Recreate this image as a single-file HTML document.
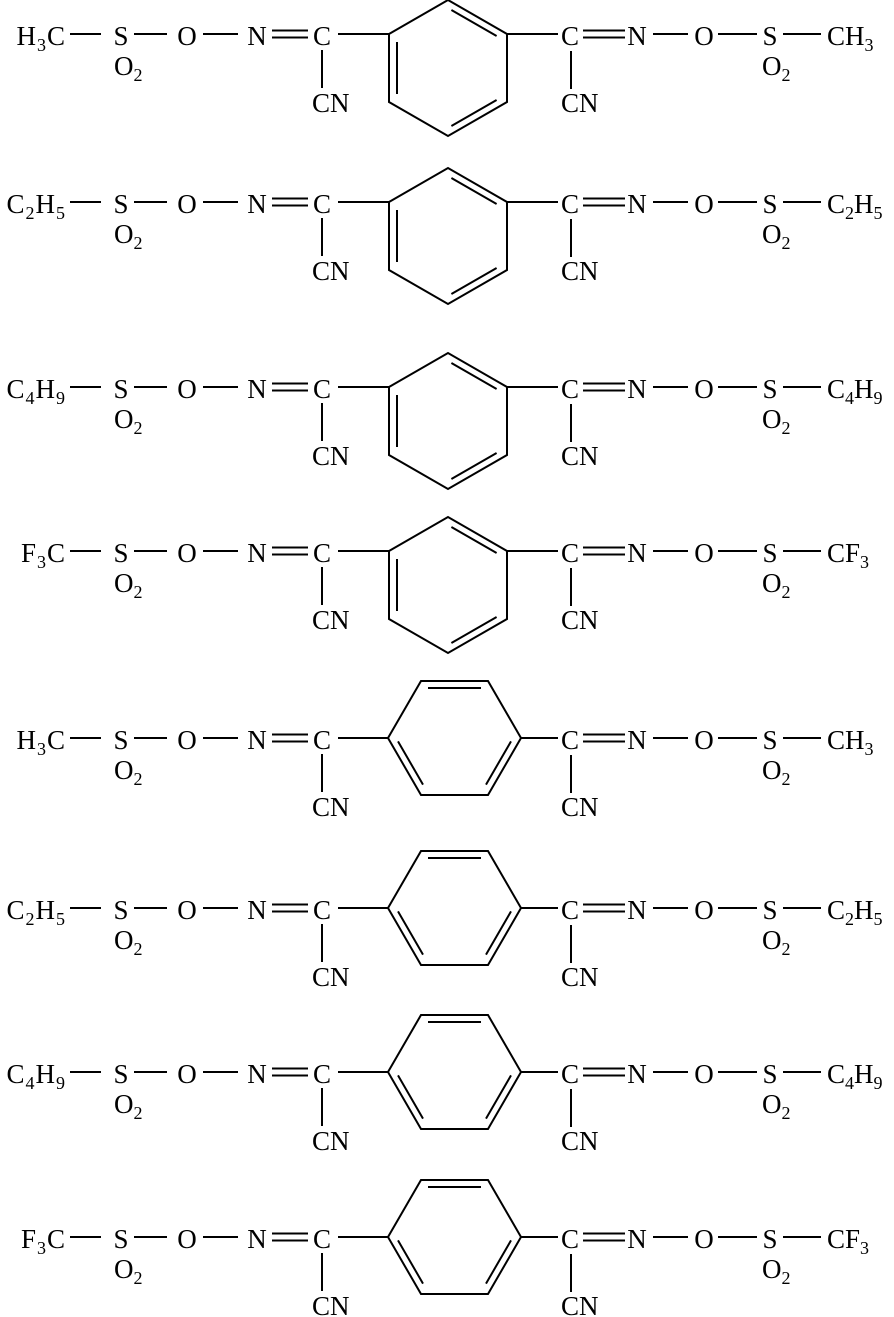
<!DOCTYPE html>
<html><head><meta charset="utf-8"><style>
html,body{margin:0;padding:0;background:#fff}
svg{display:block}
text{font-family:"Liberation Serif",serif;font-size:27px;fill:#000}
tspan.s{font-size:18px}
.m{text-anchor:middle}
.e{text-anchor:end;letter-spacing:1px}
path{stroke:#000;stroke-width:2;fill:none}
</style></head><body>
<svg width="894" height="1317" viewBox="0 0 894 1317">

<g transform="translate(0,34)">
<path d="M70 0H101M134 0H167M203 0H238M272 -3.5H308M272 3.5H308M338 0H389M322 16V54M507 0H558M583 -3.5H625M583 3.5H625M653 0H688M718 0H757M783 0H821M571 17V55"/>
<path d="M389 0L448 -34L507 0L507 68L448 102L389 68Z M397 8V60 M451.4 -24L496.6 2 M496.6 66L451.4 92"/>
<text class="e" x="66" y="11">H<tspan class="s" dy="6">3</tspan><tspan dy="-6">C</tspan></text>
<text class="m" x="121" y="11">S</text><text x="114" y="41">O<tspan class="s" dy="6">2</tspan></text>
<text class="m" x="187" y="11">O</text><text class="m" x="257" y="11">N</text><text class="m" x="322" y="11">C</text>
<text x="312" y="78">CN</text>
<text class="m" x="570" y="11">C</text><text class="m" x="637" y="11">N</text><text class="m" x="704" y="11">O</text><text class="m" x="770" y="11">S</text>
<text x="762" y="41">O<tspan class="s" dy="6">2</tspan></text><text x="561" y="78">CN</text>
<text x="827" y="11">CH<tspan class="s" dy="6">3</tspan></text>
</g>

<g transform="translate(0,202)">
<path d="M70 0H101M134 0H167M203 0H238M272 -3.5H308M272 3.5H308M338 0H389M322 16V54M507 0H558M583 -3.5H625M583 3.5H625M653 0H688M718 0H757M783 0H821M571 17V55"/>
<path d="M389 0L448 -34L507 0L507 68L448 102L389 68Z M397 8V60 M451.4 -24L496.6 2 M496.6 66L451.4 92"/>
<text class="e" x="66" y="11">C<tspan class="s" dy="6">2</tspan><tspan dy="-6">H</tspan><tspan class="s" dy="6">5</tspan></text>
<text class="m" x="121" y="11">S</text><text x="114" y="41">O<tspan class="s" dy="6">2</tspan></text>
<text class="m" x="187" y="11">O</text><text class="m" x="257" y="11">N</text><text class="m" x="322" y="11">C</text>
<text x="312" y="78">CN</text>
<text class="m" x="570" y="11">C</text><text class="m" x="637" y="11">N</text><text class="m" x="704" y="11">O</text><text class="m" x="770" y="11">S</text>
<text x="762" y="41">O<tspan class="s" dy="6">2</tspan></text><text x="561" y="78">CN</text>
<text x="827" y="11">C<tspan class="s" dy="6">2</tspan><tspan dy="-6">H</tspan><tspan class="s" dy="6">5</tspan></text>
</g>

<g transform="translate(0,387)">
<path d="M70 0H101M134 0H167M203 0H238M272 -3.5H308M272 3.5H308M338 0H389M322 16V54M507 0H558M583 -3.5H625M583 3.5H625M653 0H688M718 0H757M783 0H821M571 17V55"/>
<path d="M389 0L448 -34L507 0L507 68L448 102L389 68Z M397 8V60 M451.4 -24L496.6 2 M496.6 66L451.4 92"/>
<text class="e" x="66" y="11">C<tspan class="s" dy="6">4</tspan><tspan dy="-6">H</tspan><tspan class="s" dy="6">9</tspan></text>
<text class="m" x="121" y="11">S</text><text x="114" y="41">O<tspan class="s" dy="6">2</tspan></text>
<text class="m" x="187" y="11">O</text><text class="m" x="257" y="11">N</text><text class="m" x="322" y="11">C</text>
<text x="312" y="78">CN</text>
<text class="m" x="570" y="11">C</text><text class="m" x="637" y="11">N</text><text class="m" x="704" y="11">O</text><text class="m" x="770" y="11">S</text>
<text x="762" y="41">O<tspan class="s" dy="6">2</tspan></text><text x="561" y="78">CN</text>
<text x="827" y="11">C<tspan class="s" dy="6">4</tspan><tspan dy="-6">H</tspan><tspan class="s" dy="6">9</tspan></text>
</g>

<g transform="translate(0,551)">
<path d="M70 0H101M134 0H167M203 0H238M272 -3.5H308M272 3.5H308M338 0H389M322 16V54M507 0H558M583 -3.5H625M583 3.5H625M653 0H688M718 0H757M783 0H821M571 17V55"/>
<path d="M389 0L448 -34L507 0L507 68L448 102L389 68Z M397 8V60 M451.4 -24L496.6 2 M496.6 66L451.4 92"/>
<text class="e" x="66" y="11">F<tspan class="s" dy="6">3</tspan><tspan dy="-6">C</tspan></text>
<text class="m" x="121" y="11">S</text><text x="114" y="41">O<tspan class="s" dy="6">2</tspan></text>
<text class="m" x="187" y="11">O</text><text class="m" x="257" y="11">N</text><text class="m" x="322" y="11">C</text>
<text x="312" y="78">CN</text>
<text class="m" x="570" y="11">C</text><text class="m" x="637" y="11">N</text><text class="m" x="704" y="11">O</text><text class="m" x="770" y="11">S</text>
<text x="762" y="41">O<tspan class="s" dy="6">2</tspan></text><text x="561" y="78">CN</text>
<text x="827" y="11">CF<tspan class="s" dy="6">3</tspan></text>
</g>

<g transform="translate(0,738)">
<path d="M70 0H101M134 0H167M203 0H238M272 -3.5H308M272 3.5H308M338 0H388M322 16V54M521 0H558M583 -3.5H625M583 3.5H625M653 0H688M718 0H757M783 0H821M571 17V55"/>
<path d="M388 0L421 -57L488 -57L521 0L488 57L421 57Z M428 -50H481 M511 3.4L486 46.6 M398 3.4L423 46.6"/>
<text class="e" x="66" y="11">H<tspan class="s" dy="6">3</tspan><tspan dy="-6">C</tspan></text>
<text class="m" x="121" y="11">S</text><text x="114" y="41">O<tspan class="s" dy="6">2</tspan></text>
<text class="m" x="187" y="11">O</text><text class="m" x="257" y="11">N</text><text class="m" x="322" y="11">C</text>
<text x="312" y="78">CN</text>
<text class="m" x="570" y="11">C</text><text class="m" x="637" y="11">N</text><text class="m" x="704" y="11">O</text><text class="m" x="770" y="11">S</text>
<text x="762" y="41">O<tspan class="s" dy="6">2</tspan></text><text x="561" y="78">CN</text>
<text x="827" y="11">CH<tspan class="s" dy="6">3</tspan></text>
</g>

<g transform="translate(0,908)">
<path d="M70 0H101M134 0H167M203 0H238M272 -3.5H308M272 3.5H308M338 0H388M322 16V54M521 0H558M583 -3.5H625M583 3.5H625M653 0H688M718 0H757M783 0H821M571 17V55"/>
<path d="M388 0L421 -57L488 -57L521 0L488 57L421 57Z M428 -50H481 M511 3.4L486 46.6 M398 3.4L423 46.6"/>
<text class="e" x="66" y="11">C<tspan class="s" dy="6">2</tspan><tspan dy="-6">H</tspan><tspan class="s" dy="6">5</tspan></text>
<text class="m" x="121" y="11">S</text><text x="114" y="41">O<tspan class="s" dy="6">2</tspan></text>
<text class="m" x="187" y="11">O</text><text class="m" x="257" y="11">N</text><text class="m" x="322" y="11">C</text>
<text x="312" y="78">CN</text>
<text class="m" x="570" y="11">C</text><text class="m" x="637" y="11">N</text><text class="m" x="704" y="11">O</text><text class="m" x="770" y="11">S</text>
<text x="762" y="41">O<tspan class="s" dy="6">2</tspan></text><text x="561" y="78">CN</text>
<text x="827" y="11">C<tspan class="s" dy="6">2</tspan><tspan dy="-6">H</tspan><tspan class="s" dy="6">5</tspan></text>
</g>

<g transform="translate(0,1072)">
<path d="M70 0H101M134 0H167M203 0H238M272 -3.5H308M272 3.5H308M338 0H388M322 16V54M521 0H558M583 -3.5H625M583 3.5H625M653 0H688M718 0H757M783 0H821M571 17V55"/>
<path d="M388 0L421 -57L488 -57L521 0L488 57L421 57Z M428 -50H481 M511 3.4L486 46.6 M398 3.4L423 46.6"/>
<text class="e" x="66" y="11">C<tspan class="s" dy="6">4</tspan><tspan dy="-6">H</tspan><tspan class="s" dy="6">9</tspan></text>
<text class="m" x="121" y="11">S</text><text x="114" y="41">O<tspan class="s" dy="6">2</tspan></text>
<text class="m" x="187" y="11">O</text><text class="m" x="257" y="11">N</text><text class="m" x="322" y="11">C</text>
<text x="312" y="78">CN</text>
<text class="m" x="570" y="11">C</text><text class="m" x="637" y="11">N</text><text class="m" x="704" y="11">O</text><text class="m" x="770" y="11">S</text>
<text x="762" y="41">O<tspan class="s" dy="6">2</tspan></text><text x="561" y="78">CN</text>
<text x="827" y="11">C<tspan class="s" dy="6">4</tspan><tspan dy="-6">H</tspan><tspan class="s" dy="6">9</tspan></text>
</g>

<g transform="translate(0,1237)">
<path d="M70 0H101M134 0H167M203 0H238M272 -3.5H308M272 3.5H308M338 0H388M322 16V54M521 0H558M583 -3.5H625M583 3.5H625M653 0H688M718 0H757M783 0H821M571 17V55"/>
<path d="M388 0L421 -57L488 -57L521 0L488 57L421 57Z M428 -50H481 M511 3.4L486 46.6 M398 3.4L423 46.6"/>
<text class="e" x="66" y="11">F<tspan class="s" dy="6">3</tspan><tspan dy="-6">C</tspan></text>
<text class="m" x="121" y="11">S</text><text x="114" y="41">O<tspan class="s" dy="6">2</tspan></text>
<text class="m" x="187" y="11">O</text><text class="m" x="257" y="11">N</text><text class="m" x="322" y="11">C</text>
<text x="312" y="78">CN</text>
<text class="m" x="570" y="11">C</text><text class="m" x="637" y="11">N</text><text class="m" x="704" y="11">O</text><text class="m" x="770" y="11">S</text>
<text x="762" y="41">O<tspan class="s" dy="6">2</tspan></text><text x="561" y="78">CN</text>
<text x="827" y="11">CF<tspan class="s" dy="6">3</tspan></text>
</g>
</svg>
</body></html>
